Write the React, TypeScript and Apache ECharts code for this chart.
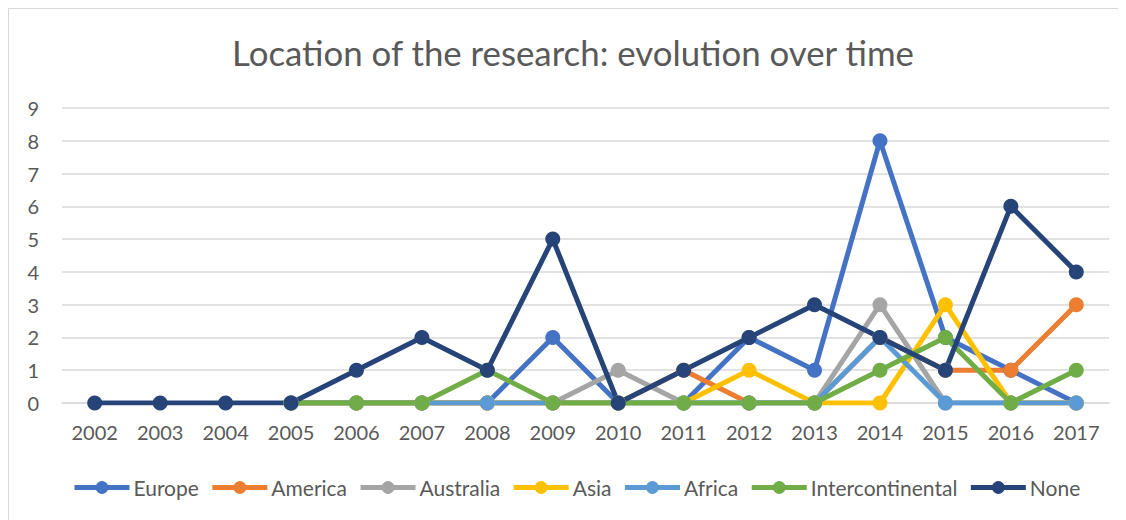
import React, { useEffect, useRef } from "react";
import * as echarts from "echarts";

const years = ["2002","2003","2004","2005","2006","2007","2008","2009","2010","2011","2012","2013","2014","2015","2016","2017"];
const europe = [null,null,null,0,0,0,0,2,0,0,2,1,8,2,1,0];
const america = [null,null,null,0,0,0,0,0,0,1,0,0,2,1,1,3];
const australia = [null,null,null,0,0,0,0,0,1,0,0,0,3,0,0,0];
const asia = [null,null,null,0,0,0,0,0,0,0,1,0,0,3,0,0];
const africa = [null,null,null,0,0,0,0,0,0,0,0,0,2,0,0,0];
const intercontinental = [null,null,null,0,0,0,1,0,0,0,0,0,1,2,0,1];
const none = [0,0,0,0,1,2,1,5,0,1,2,3,2,1,6,4];

const seriesDefs = [
  { name: "Europe", data: europe, color: "#4472C4" },
  { name: "America", data: america, color: "#ED7D31" },
  { name: "Australia", data: australia, color: "#A5A5A5" },
  { name: "Asia", data: asia, color: "#FFC000" },
  { name: "Africa", data: africa, color: "#5B9BD5" },
  { name: "Intercontinental", data: intercontinental, color: "#70AD47" },
  { name: "None", data: none, color: "#264478" },
];

const FONT = "Lato";
const TEXT = "#595959";

export default function App() {
  const ref = useRef<HTMLDivElement>(null);
  useEffect(() => {
    if (!ref.current) return;
    const chart = echarts.init(ref.current, null, { renderer: "svg" });
    chart.setOption({
      animation: false,
      backgroundColor: "#ffffff",
      title: {
        text: "Location of the research: evolution over time",
        left: 559,
        top: 21,
        textAlign: "center",
        textStyle: { fontFamily: FONT, fontWeight: "normal", fontSize: 34.8, color: TEXT },
      },
      legend: {
        left: 58,
        top: 463,
        itemWidth: 55,
        itemHeight: 16,
        itemGap: 11,
        lineStyle: { width: 5 },
        textStyle: { fontFamily: FONT, fontSize: 21, color: TEXT, padding: [0, 0, 0, -1] },
        data: seriesDefs.map((s) => s.name),
      },
      grid: { left: 53, right: 17, top: 99, bottom: 117 },
      xAxis: {
        type: "category",
        data: years,
        boundaryGap: true,
        axisLine: { lineStyle: { color: "#d9d9d9", width: 1.5 } },
        axisTick: { show: false },
        axisLabel: { fontFamily: FONT, fontSize: 20, color: TEXT, margin: 19 },
      },
      yAxis: {
        type: "value",
        min: 0,
        max: 9,
        interval: 1,
        axisLine: { show: false },
        axisTick: { show: false },
        splitLine: { lineStyle: { color: "#d9d9d9", width: 1.5 } },
        axisLabel: { fontFamily: FONT, fontSize: 20, color: TEXT, margin: 23 },
      },
      series: seriesDefs.map((s) => ({
        name: s.name,
        type: "line",
        data: s.data,
        color: s.color,
        symbol: "circle",
        symbolSize: 15,
        connectNulls: false,
        lineStyle: { width: 5, color: s.color },
        itemStyle: { color: s.color },
      })),
    });
    return () => chart.dispose();
  }, []);
  return (
    <div
      style={{
        width: 1118,
        height: 512,
        borderTop: "1px solid #d9d9d9",
        borderLeft: "1px solid #d9d9d9",
        boxSizing: "border-box",
      }}
    >
      <div ref={ref} style={{ width: 1117, height: 511 }} />
    </div>
  );
}
